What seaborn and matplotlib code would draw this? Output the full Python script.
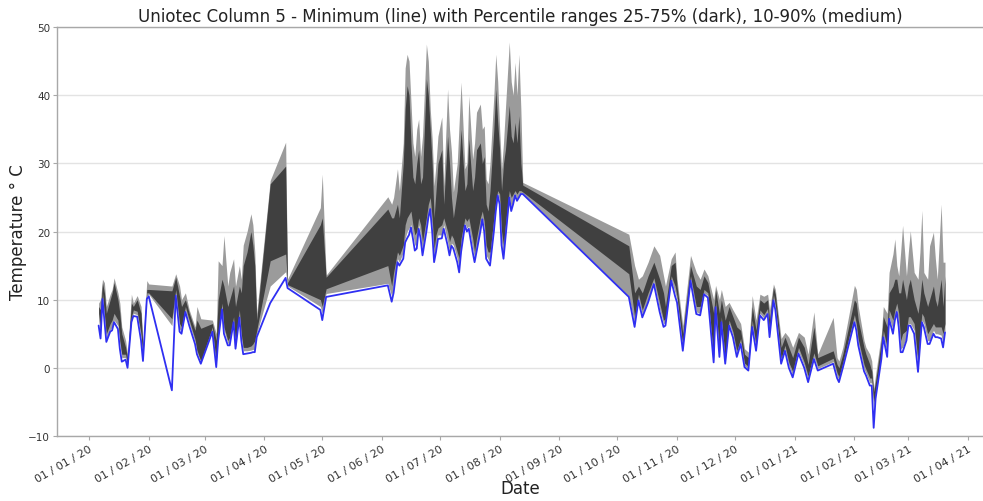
import matplotlib
matplotlib.use("Agg")
import numpy as np
import pandas as pd
import matplotlib.pyplot as plt
import matplotlib.dates as mdates
import seaborn as sns

# Daily temperature statistics, Uniotec column 5 (days counted from 2020-01-01)
days = [
    5, 6, 7, 8, 9, 11, 12, 13, 15, 16, 17, 19, 20, 22, 23, 25, 27, 28, 30, 31,
    43, 45, 47, 48, 50, 52, 55, 56, 58,
    64, 66, 67, 69, 70, 72, 73, 75, 76, 78, 79, 80, 82, 84, 85, 86, 87,
    94, 102, 103, 120, 121, 123,
    155, 157, 158, 160, 161, 163, 164, 165, 166, 167, 168, 169, 170, 171, 172,
    173, 175, 176, 177, 178, 179, 180, 181, 183, 184, 186, 187, 188, 189, 191,
    192, 193, 195, 196, 197, 199, 200, 201, 203, 204, 205, 206, 207, 208, 210,
    211, 212, 213, 214, 215, 216, 218, 219, 220, 221, 222, 223, 224, 225,
    280, 283, 285, 287, 290, 293, 296, 298, 299, 302, 304, 305, 308, 312, 315,
    317, 319, 321, 324, 325, 327, 328, 330, 332, 334, 336, 338, 340, 342, 344,
    346, 348, 350, 352, 353, 355, 356, 359, 361, 363, 365,
    368, 371, 373, 376, 378, 386, 388, 389, 391, 397, 398, 399, 402, 403, 405,
    406, 407, 408, 409, 411, 412, 414, 415, 417, 418, 419, 420, 421, 422, 424,
    425, 426, 428, 430, 431, 432, 433, 435, 436, 438, 439, 440, 442, 443, 444,
]

t_min = [
    6.2, 4.3, 10.1, 7.0, 3.8, 5.3, 5.5, 6.7, 5.7, 2.8, 0.9, 1.2, 0.0, 6.7, 7.6, 7.5, 4.0, 1.0, 10.1, 10.5,
    -3.3, 10.6, 5.3, 5.0, 8.2, 6.2, 3.5, 2.0, 0.6,
    5.3, 0.1, 4.0, 8.6, 5.0, 3.3, 3.3, 6.7, 2.8, 7.4, 4.0, 2.0, 2.1, 2.2, 2.3, 2.3, 4.5,
    9.5, 13.2, 11.7, 8.5, 7.0, 10.4,
    12.1, 9.7, 11.0, 15.5, 15.0, 16.0, 18.4, 19.0, 19.5, 20.6, 19.0, 17.2, 17.5, 20.4, 19.0,
    16.5, 20.0, 22.0, 23.3, 20.0, 15.5, 17.0, 18.9, 19.0, 20.4, 18.0, 16.5, 17.9, 17.5, 15.5,
    14.0, 17.0, 20.9, 20.0, 20.4, 17.0, 15.5, 17.0, 20.0, 21.8, 20.0, 16.0, 15.5, 15.0, 20.0,
    23.0, 25.3, 24.0, 18.0, 16.0, 19.0, 25.0, 23.0, 24.0, 25.3, 24.5, 25.0, 25.5, 25.5,
    10.4, 6.0, 9.9, 7.4, 9.6, 12.3, 8.2, 6.0, 6.2, 12.8, 10.5, 9.6, 2.5, 12.8, 7.9,
    7.7, 10.8, 10.3, 0.8, 8.9, 1.6, 6.7, 0.6, 6.2, 4.5, 1.6, 3.5, 0.1, -0.4, 6.0,
    2.5, 7.7, 7.0, 7.9, 4.5, 9.9, 8.5, 0.6, 2.5, 0.0, -1.4,
    2.1, 0.0, -2.1, 1.3, -0.4, 0.6, -1.5, -2.1, 0.0, 6.7, 5.5, 3.3, -0.5, -1.1, -2.6,
    -2.6, -8.8, -4.5, -2.6, 1.3, 4.5, 1.6, 7.2, 5.0, 7.0, 8.2, 6.0, 2.3, 2.3, 4.0,
    6.2, 6.2, 5.0, -0.6, 3.0, 6.7, 6.0, 3.5, 3.5, 5.0, 4.5, 4.5, 4.3, 3.0, 5.2,
]

p10 = [
    7.0, 5.0, 10.5, 7.5, 4.2, 5.6, 6.0, 7.0, 6.2, 3.5, 1.5, 1.5, 0.3, 7.0, 8.0, 7.8, 4.5, 1.3, 10.5, 10.8,
    6.2, 11.0, 5.7, 5.3, 8.5, 6.5, 3.8, 2.3, 0.8,
    5.5, 0.4, 4.5, 9.0, 5.5, 3.6, 3.6, 7.0, 3.0, 7.8, 4.5, 2.5, 2.5, 2.6, 2.7, 2.7, 5.0,
    12.0, 14.1, 12.0, 9.0, 8.0, 10.9,
    12.4, 10.5, 12.0, 16.0, 15.5, 17.0, 19.0, 20.0, 20.5, 21.0, 19.5, 18.0, 18.0, 21.0, 19.5,
    17.0, 21.0, 22.5, 23.5, 20.5, 16.0, 18.0, 19.5, 19.5, 21.0, 18.5, 17.0, 18.3, 18.0, 16.0,
    14.5, 17.5, 21.2, 20.5, 20.8, 17.5, 16.0, 17.5, 20.5, 22.0, 20.5, 16.5, 16.0, 15.5, 20.5,
    23.5, 25.6, 24.5, 18.5, 16.5, 19.5, 25.3, 23.5, 24.5, 25.5, 24.8, 25.3, 25.7, 25.6,
    10.5, 6.5, 10.2, 7.8, 10.0, 12.6, 8.6, 6.5, 6.6, 13.0, 11.0, 10.0, 2.8, 13.0, 8.2,
    8.0, 11.0, 10.6, 1.0, 9.2, 1.9, 7.0, 0.9, 6.5, 4.8, 1.9, 3.8, 0.3, -0.2, 6.3,
    2.8, 8.0, 7.3, 8.2, 4.8, 10.2, 8.8, 0.9, 2.8, 0.3, -1.1,
    2.4, 0.3, -1.8, 1.6, -0.1, 0.9, -1.2, -1.8, 0.3, 7.0, 5.8, 3.6, -0.2, -0.8, -2.2,
    -2.2, -6.0, -4.0, -2.2, 1.6, 4.8, 2.0, 7.5, 5.5, 7.5, 8.5, 6.5, 2.8, 3.0, 4.5,
    6.5, 6.5, 5.5, 0.0, 3.5, 7.0, 6.5, 4.0, 4.0, 5.5, 5.0, 5.0, 4.8, 3.5, 5.5,
]

p25 = [
    8.0, 6.0, 11.0, 8.0, 5.0, 6.5, 7.0, 8.0, 7.0, 4.0, 2.0, 2.0, 0.5, 7.5, 8.5, 8.3, 5.0, 1.8, 11.0, 11.0,
    7.2, 11.5, 6.5, 6.0, 9.0, 7.0, 4.2, 2.6, 1.0,
    6.0, 0.8, 5.0, 9.5, 6.0, 4.0, 4.5, 7.5, 3.5, 8.5, 5.0, 3.0, 3.0, 3.2, 3.5, 4.0, 5.5,
    15.7, 16.7, 12.2, 10.0, 9.0, 11.6,
    15.0, 12.0, 14.0, 17.0, 16.5, 18.0, 21.0, 22.0, 22.5, 23.0, 21.0, 19.5, 20.0, 22.0, 21.0,
    18.5, 22.0, 24.0, 25.0, 22.0, 17.5, 19.5, 20.5, 21.0, 22.0, 20.0, 18.5, 19.5, 19.0, 17.0,
    16.0, 19.0, 22.0, 21.5, 22.0, 19.0, 17.0, 19.0, 22.0, 23.0, 21.5, 18.0, 17.0, 17.0, 22.0,
    24.5, 26.0, 25.5, 20.0, 18.0, 21.0, 26.0, 25.0, 25.5, 26.0, 25.5, 26.0, 26.0, 25.8,
    13.8, 7.5, 10.8, 8.5, 11.0, 13.2, 9.5, 7.0, 7.2, 13.5, 12.0, 10.5, 3.3, 13.5, 9.0,
    9.0, 11.5, 11.0, 1.5, 9.8, 2.5, 7.5, 1.3, 7.0, 5.3, 2.5, 4.3, 0.7, 0.2, 7.0,
    3.3, 8.5, 7.8, 8.7, 5.3, 10.8, 9.3, 1.4, 3.3, 0.8, -0.5,
    3.0, 0.8, -1.2, 2.2, 0.3, 1.4, -0.7, -1.3, 0.8, 7.8, 6.5, 4.2, 0.5, -0.2, -1.5,
    -1.5, -5.0, -3.5, -1.5, 2.2, 5.5, 3.0, 8.5, 7.0, 8.5, 9.5, 8.0, 4.0, 5.0, 5.5,
    7.5, 7.5, 6.5, 1.0, 5.0, 8.0, 7.5, 5.0, 5.5, 6.5, 6.0, 6.0, 6.0, 5.0, 6.5,
]

p75 = [
    9.0, 8.5, 12.5, 11.0, 8.0, 10.0, 11.0, 12.5, 10.0, 8.0, 5.0, 3.0, 1.5, 9.5, 9.0, 10.0, 8.0, 3.0, 11.5, 11.5,
    11.3, 13.3, 10.5, 9.0, 10.0, 8.0, 5.5, 7.0, 5.8,
    6.5, 4.0, 10.0, 13.0, 12.0, 9.0, 10.0, 12.0, 9.0, 12.0, 11.0, 15.0, 17.0, 20.0, 18.0, 15.0, 7.0,
    27.0, 29.6, 12.5, 21.0, 22.0, 13.3,
    23.3, 22.0, 22.0, 24.0, 22.0, 30.0, 38.0, 41.4, 40.0, 33.0, 28.0, 27.0, 30.0, 32.0, 27.0,
    28.0, 42.4, 40.0, 35.0, 30.0, 22.0, 26.0, 30.0, 32.0, 24.0, 34.0, 30.0, 25.0, 22.0, 26.0,
    30.0, 35.0, 26.0, 27.0, 33.6, 26.0, 28.0, 32.0, 33.0, 30.0, 31.0, 24.0, 23.0, 26.0, 35.0,
    40.9, 36.0, 32.0, 26.0, 30.0, 32.0, 38.5, 34.0, 33.0, 36.0, 33.0, 37.0, 30.0, 26.8,
    17.9, 11.0, 12.0, 11.0, 13.5, 15.5, 13.0, 11.0, 9.0, 15.0, 15.5, 12.0, 5.0, 15.0, 12.0,
    11.5, 13.5, 12.5, 8.0, 11.5, 8.0, 10.0, 7.0, 9.0, 7.5, 6.0, 5.5, 2.0, 1.5, 9.0,
    5.5, 10.0, 9.5, 10.0, 7.0, 11.8, 10.8, 3.0, 4.5, 3.0, 1.5,
    4.5, 3.0, 0.5, 6.0, 1.5, 2.5, 0.5, 0.0, 2.0, 10.0, 9.5, 7.0, 3.0, 2.0, 0.5,
    -0.5, -3.5, -2.0, 0.0, 4.0, 7.5, 6.0, 11.0, 12.0, 13.0, 13.0, 11.0, 11.0, 13.0, 10.0,
    12.0, 13.0, 10.0, 8.0, 10.0, 13.0, 11.0, 9.0, 10.0, 12.0, 10.0, 9.0, 13.0, 9.0, 13.5,
]

p90 = [
    9.5, 10.0, 13.0, 12.5, 9.0, 10.8, 11.5, 13.2, 11.0, 9.5, 6.0, 4.0, 2.0, 10.8, 9.5, 10.6, 9.0, 3.5, 12.8, 12.3,
    12.0, 13.8, 12.0, 10.0, 11.0, 8.5, 6.0, 9.0, 7.2,
    7.0, 5.0, 15.7, 15.0, 19.4, 12.0, 14.0, 16.0, 12.0, 15.0, 13.0, 18.0, 20.0, 22.6, 21.0, 17.0, 8.0,
    27.5, 33.1, 13.0, 23.5, 28.4, 13.6,
    25.1, 24.0, 25.0, 29.2, 26.0, 33.0, 44.0, 46.0, 45.0, 39.0, 33.0, 31.0, 35.0, 36.5, 31.0,
    34.0, 47.5, 45.0, 38.0, 33.6, 26.7, 30.0, 34.0, 36.8, 26.7, 40.9, 35.0, 31.7, 25.8, 30.0,
    36.0, 41.9, 29.2, 30.0, 39.9, 30.6, 33.0, 37.5, 38.7, 35.0, 35.5, 27.7, 27.0, 30.0, 40.0,
    46.0, 42.0, 35.0, 29.2, 33.0, 38.0, 47.8, 42.0, 40.0, 44.8, 40.0, 46.0, 38.0, 27.2,
    19.6, 15.0, 13.0, 13.5, 15.5, 17.9, 16.5, 13.5, 12.0, 16.0, 17.0, 13.0, 6.2, 16.5, 14.0,
    13.0, 14.5, 13.5, 10.0, 12.1, 10.0, 11.5, 9.0, 9.6, 8.5, 7.5, 6.5, 2.8, 2.3, 10.6,
    7.0, 10.8, 10.5, 10.8, 8.5, 12.3, 11.5, 4.3, 5.2, 4.5, 3.0,
    5.2, 4.5, 2.0, 8.2, 2.0, 7.4, 1.5, 1.0, 3.0, 12.1, 11.5, 9.0, 4.0, 3.0, 2.0,
    1.0, -3.0, -1.0, 1.0, 5.0, 9.0, 8.0, 14.0, 16.7, 18.9, 15.0, 13.5, 17.0, 20.9, 13.5,
    17.0, 20.1, 14.0, 13.0, 17.0, 23.1, 14.0, 13.0, 17.9, 19.9, 16.0, 13.0, 24.0, 15.5, 15.5,
]

y_ticks = [-10, 0, 10, 20, 30, 40, 50]

n = len(days)
assert all(len(s) == n for s in (t_min, p10, p25, p75, p90))

df = pd.DataFrame({
    "date": pd.Timestamp("2020-01-01") + pd.to_timedelta(days, unit="D"),
    "min": t_min, "p10": p10, "p25": p25, "p75": p75, "p90": p90,
})

sns.set_theme(style="white")
plt.rcParams["font.family"] = ["DejaVu Sans"]

fig = plt.figure(figsize=(9.83, 5.02), dpi=100)
ax = fig.add_axes([0.058, 0.1295, 0.942, 0.8147])

ax.fill_between(df["date"], df["p10"], df["p90"], color="#9b9b9b", lw=0, zorder=2)
ax.fill_between(df["date"], df["p25"], df["p75"], color="#404040", lw=0, zorder=3)
sns.lineplot(data=df, x="date", y="min", ax=ax, color="#2f2ff2", lw=1.3, zorder=4)

ax.set_xlim(pd.Timestamp("2019-12-15 10:00"), pd.Timestamp("2021-04-08 17:00"))
ax.set_ylim(-10, 50)
ax.set_yticks(y_ticks)

ax.xaxis.set_major_locator(mdates.MonthLocator())
ax.xaxis.set_major_formatter(mdates.DateFormatter("%d / %m / %y"))
plt.setp(ax.get_xticklabels(), rotation=30, ha="right", rotation_mode="anchor")

ax.yaxis.grid(True, color="#e3e3e3", lw=1)
ax.xaxis.grid(False)
ax.set_axisbelow(True)

for side in ("left", "bottom", "top"):
    ax.spines[side].set_color("#a8a8a8")
    ax.spines[side].set_linewidth(1)
ax.spines["right"].set_visible(False)

ax.tick_params(axis="both", bottom=True, left=True, length=3, width=0.8,
               color="#a8a8a8", labelcolor="#333333", pad=2)
ax.tick_params(axis="x", labelsize=8)
ax.tick_params(axis="y", labelsize=7.5)

ax.set_title("Uniotec Column 5 - Minimum (line) with Percentile ranges 25-75% (dark), 10-90% (medium)",
             fontsize=12, color="#222222", pad=4)
ax.set_xlabel("Date", fontsize=12, color="#222222", labelpad=-3)
ax.set_ylabel("Temperature \u00b0 C", fontsize=12, color="#222222", labelpad=1)

fig.savefig("out.png", dpi=100)
